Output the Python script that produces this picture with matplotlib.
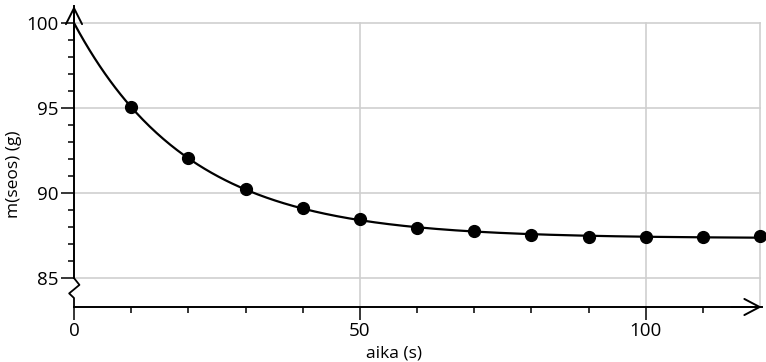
import numpy as np
import matplotlib
matplotlib.use("Agg")
import matplotlib.pyplot as plt
from matplotlib.ticker import FixedLocator

plt.rcParams['font.family'] = ['Open Sans', 'DejaVu Sans']

# measured data
t0 = 0
m0 = 100.0
aika = [10, 20, 30, 40, 50, 60, 70, 80, 90, 100, 110, 120]
massa = [95.05, 92.05, 90.22, 89.1, 88.45, 87.93, 87.75, 87.53, 87.43, 87.43, 87.42, 87.46]

xticks = [0, 50, 100]
yticks = [85, 90, 95, 100]

# exponential fit m = a + b*exp(-t/tau), least squares over a tau grid
tt = np.array([t0] + aika, dtype=float)
mm = np.array([m0] + massa)
best = None
for tau in np.linspace(5, 60, 1101):
    A = np.column_stack([np.ones_like(tt), np.exp(-tt / tau)])
    coef, res, _, _ = np.linalg.lstsq(A, mm, rcond=None)
    err = np.sum((A @ coef - mm) ** 2)
    if best is None or err < best[0]:
        best = (err, tau, coef)
_, tau, (a, b) = best
tc = np.linspace(0, 120, 400)
mc = a + b * np.exp(-tc / tau)

fig = plt.figure(figsize=(7.66, 3.62), dpi=100)
ax = fig.add_axes([74 / 766, 1 - 307 / 362, 686 / 766, 301 / 362])
ax.set_xlim(0, 120)
ax.set_ylim(83.3, 101)

grid = '#cfcfcf'
for y in yticks:
    ax.plot([0, 120], [y, y], color=grid, lw=1.2, zorder=1, clip_on=False)
for x in [50, 100, 120]:
    ax.plot([x, x], [83.3, 100], color=grid, lw=1.2, zorder=1, clip_on=False)

ax.plot(tc, mc, color='black', lw=1.6, zorder=3)
ax.plot(aika, massa, 'o', color='black', ms=8.5, zorder=4, clip_on=False)

for s in ax.spines.values():
    s.set_visible(False)

# axes with arrows and axis break
ax.plot([0, 0], [85, 101], color='black', lw=1.4, clip_on=False, zorder=5)
ax.plot([0, 120.3], [83.3, 83.3], color='black', lw=1.4, clip_on=False, zorder=5)
ax.plot([0, 0.95, -0.85, 0, 0], [85, 84.6, 84.1, 83.83, 83.3],
        color='black', lw=1.3, clip_on=False, zorder=5)
ax.annotate('', xy=(0, 101), xytext=(0, 99), annotation_clip=False,
            arrowprops=dict(arrowstyle='->,head_length=1.15,head_width=0.58',
                            lw=1.4, color='black', mutation_scale=10, shrinkA=0, shrinkB=0))
ax.annotate('', xy=(120.3, 83.3), xytext=(115, 83.3), annotation_clip=False,
            arrowprops=dict(arrowstyle='->,head_length=1.1,head_width=0.58',
                            lw=1.4, color='black', mutation_scale=10, shrinkA=0, shrinkB=0))

ax.set_xticks(xticks)
ax.set_yticks(yticks)
ax.xaxis.set_minor_locator(FixedLocator([10, 20, 30, 40, 60, 70, 80, 90, 110]))
ax.yaxis.set_minor_locator(FixedLocator([v for v in range(86, 100) if v % 5]))
ax.tick_params(axis='both', which='major', length=9.5, width=1.1, labelsize=13.5,
               color='black', pad=1.5)
ax.tick_params(axis='both', which='minor', length=4.5, width=1.1, color='black')
ax.tick_params(axis='x', which='major', length=9, pad=2)

ax.set_xlabel('aika (s)', fontsize=12.5)
ax.set_ylabel('m(seos) (g)', fontsize=12.5)
ax.xaxis.set_label_coords(0.466, -0.128)
ax.yaxis.set_label_coords(-0.076, 0.442)

fig.savefig('out.png', dpi=100)
